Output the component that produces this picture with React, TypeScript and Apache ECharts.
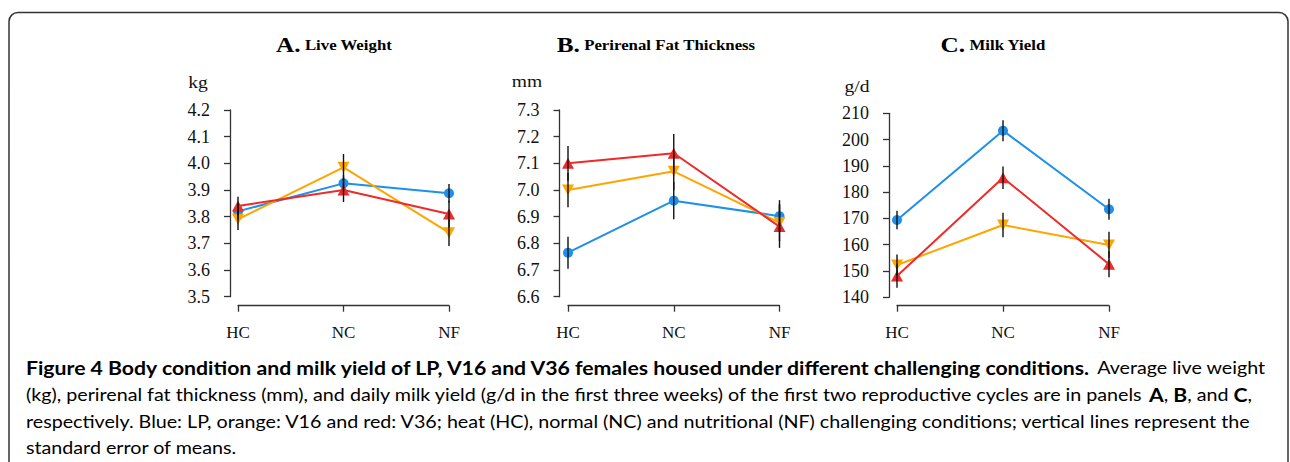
import React, { useEffect, useRef } from "react";
import * as echarts from "echarts";

const categories = ["HC", "NC", "NF"];
const groupNames = ["LP", "V16", "V36"];

// Panel A: live weight (kg)
const weightLP = [3.82, 3.925, 3.888];
const weightV16 = [3.79, 3.985, 3.74];
const weightV36 = [3.84, 3.9, 3.81];
const weightSeLP = [0.03, 0.03, 0.035];
const weightSeV16 = [0.04, 0.05, 0.05];
const weightSeV36 = [0.035, 0.045, 0.05];

// Panel B: perirenal fat thickness (mm)
const fatLP = [6.765, 6.96, 6.902];
const fatV16 = [7.0, 7.07, 6.878];
const fatV36 = [7.1, 7.138, 6.863];
const fatSeLP = [0.06, 0.07, 0.06];
const fatSeV16 = [0.065, 0.07, 0.07];
const fatSeV36 = [0.065, 0.072, 0.08];

// Panel C: milk yield (g/d)
const milkLP = [169.4, 203.4, 173.5];
const milkV16 = [152.3, 167.5, 159.9];
const milkV36 = [148.1, 185.5, 152.6];
const milkSeLP = [3.5, 4, 4];
const milkSeV16 = [4, 4.7, 5];
const milkSeV36 = [4.5, 4.3, 5];

const panelLetters = ["A.", "B.", "C."];
const panelTitles = ["Live Weight", "Perirenal Fat Thickness", "Milk Yield"];
const panelUnits = ["kg", "mm", "g/d"];

const captionLines = [
  "{b|Figure 4 Body condition and milk yield of LP, V16 and V36 females housed under different challenging conditions.}{r| Average live weight}",
  "{r|(kg), perirenal fat thickness (mm), and daily milk yield (g/d in the first three weeks) of the first two reproductive cycles are in panels }{b|A}{r|, }{b|B}{r|, and }{b|C}{r|,}",
  "{r|respectively. Blue: LP, orange: V16 and red: V36; heat (HC), normal (NC) and nutritional (NF) challenging conditions; vertical lines represent the}",
  "{r|standard error of means.}",
];

const COLORS = ["#1E8FEA", "#FFA500", "#EE2A2A"];
const SERIF = "Liberation Serif";
const SANS = "Lato";

const panels = [
  {
    values: [weightLP, weightV16, weightV36],
    se: [weightSeLP, weightSeV16, weightSeV36],
    min: 3.5, max: 4.2, interval: 0.1, decimals: 1,
    grid: { left: 238, top: 110, width: 211, height: 186.7 },
    yOffset: 8, xOffset: 9,
    titleX: 334, unitX: 198, unitY: 82,
  },
  {
    values: [fatLP, fatV16, fatV36],
    se: [fatSeLP, fatSeV16, fatSeV36],
    min: 6.6, max: 7.3, interval: 0.1, decimals: 1,
    grid: { left: 568, top: 110, width: 211.5, height: 186.7 },
    yOffset: 8.5, xOffset: 9,
    titleX: 656, unitX: 527, unitY: 81,
  },
  {
    values: [milkLP, milkV16, milkV36],
    se: [milkSeLP, milkSeV16, milkSeV36],
    min: 140, max: 210, interval: 10, decimals: 0,
    grid: { left: 897, top: 113.3, width: 212, height: 184 },
    yOffset: 8, xOffset: 8.4,
    titleX: 993, unitX: 857, unitY: 86,
  },
];

const symbols = [
  { symbol: "circle", symbolSize: 10, symbolRotate: 0 },
  { symbol: "triangle", symbolSize: [12, 11], symbolRotate: 180 },
  { symbol: "triangle", symbolSize: [12, 11], symbolRotate: 0 },
];

function buildOption() {
  const grids: any[] = [];
  const xAxes: any[] = [];
  const yAxes: any[] = [];
  const series: any[] = [];
  const graphics: any[] = [];

  panels.forEach((p, i) => {
    grids.push({ ...p.grid, containLabel: false });
    xAxes.push({
      gridIndex: i,
      type: "category",
      data: categories,
      boundaryGap: false,
      offset: p.xOffset,
      axisLine: { lineStyle: { color: "#333", width: 1.3 } },
      axisTick: { show: true, length: 6, lineStyle: { color: "#333", width: 1.3 } },
      axisLabel: { margin: 18, fontSize: 17, fontFamily: SERIF, color: "#111" },
      splitLine: { show: false },
    });
    yAxes.push({
      gridIndex: i,
      type: "value",
      min: p.min,
      max: p.max,
      interval: p.interval,
      offset: p.yOffset,
      axisLine: { show: true, lineStyle: { color: "#333", width: 1.3 } },
      axisTick: { show: true, length: 6, lineStyle: { color: "#333", width: 1.3 } },
      axisLabel: {
        margin: 20,
        fontSize: 18,
        fontFamily: SERIF,
        color: "#111",
        formatter: (v: number) => v.toFixed(p.decimals),
      },
      splitLine: { show: false },
    });
    p.values.forEach((vals, s) => {
      series.push({
        type: "line",
        name: groupNames[s],
        xAxisIndex: i,
        yAxisIndex: i,
        data: vals,
        ...symbols[s],
        showSymbol: true,
        color: COLORS[s],
        itemStyle: { color: COLORS[s] },
        lineStyle: { color: COLORS[s], width: 2 },
        z: 2,
      });
    });
    const errData: number[][] = [];
    p.values.forEach((vals, s) => {
      vals.forEach((v, c) => {
        errData.push([c, v - p.se[s][c], v + p.se[s][c]]);
      });
    });
    series.push({
      type: "custom",
      xAxisIndex: i,
      yAxisIndex: i,
      data: errData,
      z: 3,
      renderItem: (params: any, api: any) => {
        const x = api.value(0);
        const a = api.coord([x, api.value(1)]);
        const b = api.coord([x, api.value(2)]);
        return {
          type: "line",
          shape: { x1: a[0], y1: a[1], x2: b[0], y2: b[1] },
          style: { stroke: "#111", lineWidth: 1.4 },
        };
      },
    });

    graphics.push({
      type: "text",
      x: p.titleX,
      y: 45,
      scaleX: 1.2,
      style: {
        text: `{big|${panelLetters[i]}}{small| ${panelTitles[i]}}`,
        textAlign: "center",
        textVerticalAlign: "middle",
        rich: {
          big: { fontFamily: SERIF, fontWeight: "bold", fontSize: 21, color: "#111" },
          small: { fontFamily: SERIF, fontWeight: "bold", fontSize: 14, color: "#111" },
        },
      },
    });
    graphics.push({
      type: "text",
      x: p.unitX,
      y: p.unitY,
      scaleX: 1.15,
      style: {
        text: panelUnits[i],
        fontFamily: SERIF,
        fontSize: 17,
        fill: "#111",
        textAlign: "center",
        textVerticalAlign: "middle",
      },
    });
  });

  graphics.push({
    type: "rect",
    shape: { x: 9, y: 12.5, width: 1279, height: 470, r: 9 },
    style: { fill: "none", stroke: "#333", lineWidth: 1.5 },
    z: 0,
  });

  const lineYs = [367, 394, 420.5, 447];
  captionLines.forEach((t, k) => {
    graphics.push({
      type: "text",
      x: 26,
      y: lineYs[k],
      scaleX: 1.1,
      style: {
        text: t,
        textVerticalAlign: "middle",
        rich: {
          b: { fontFamily: SANS, fontWeight: "bold", fontSize: 19.3, color: "#231f20" },
          r: { fontFamily: SANS, fontWeight: "normal", fontSize: 17.9, color: "#404040" },
        },
      },
    });
  });

  return {
    animation: false,
    backgroundColor: "#fff",
    grid: grids,
    xAxis: xAxes,
    yAxis: yAxes,
    series,
    graphic: graphics,
  };
}

export default function App() {
  const ref = useRef<HTMLDivElement>(null);
  useEffect(() => {
    const chart = echarts.init(ref.current!, null, { renderer: "svg" });
    chart.setOption(buildOption() as any);
    return () => chart.dispose();
  }, []);
  return (
    <div
      ref={ref}
      style={{ position: "fixed", left: 0, top: 0, width: 1290, height: 462, background: "#fff" }}
    />
  );
}
